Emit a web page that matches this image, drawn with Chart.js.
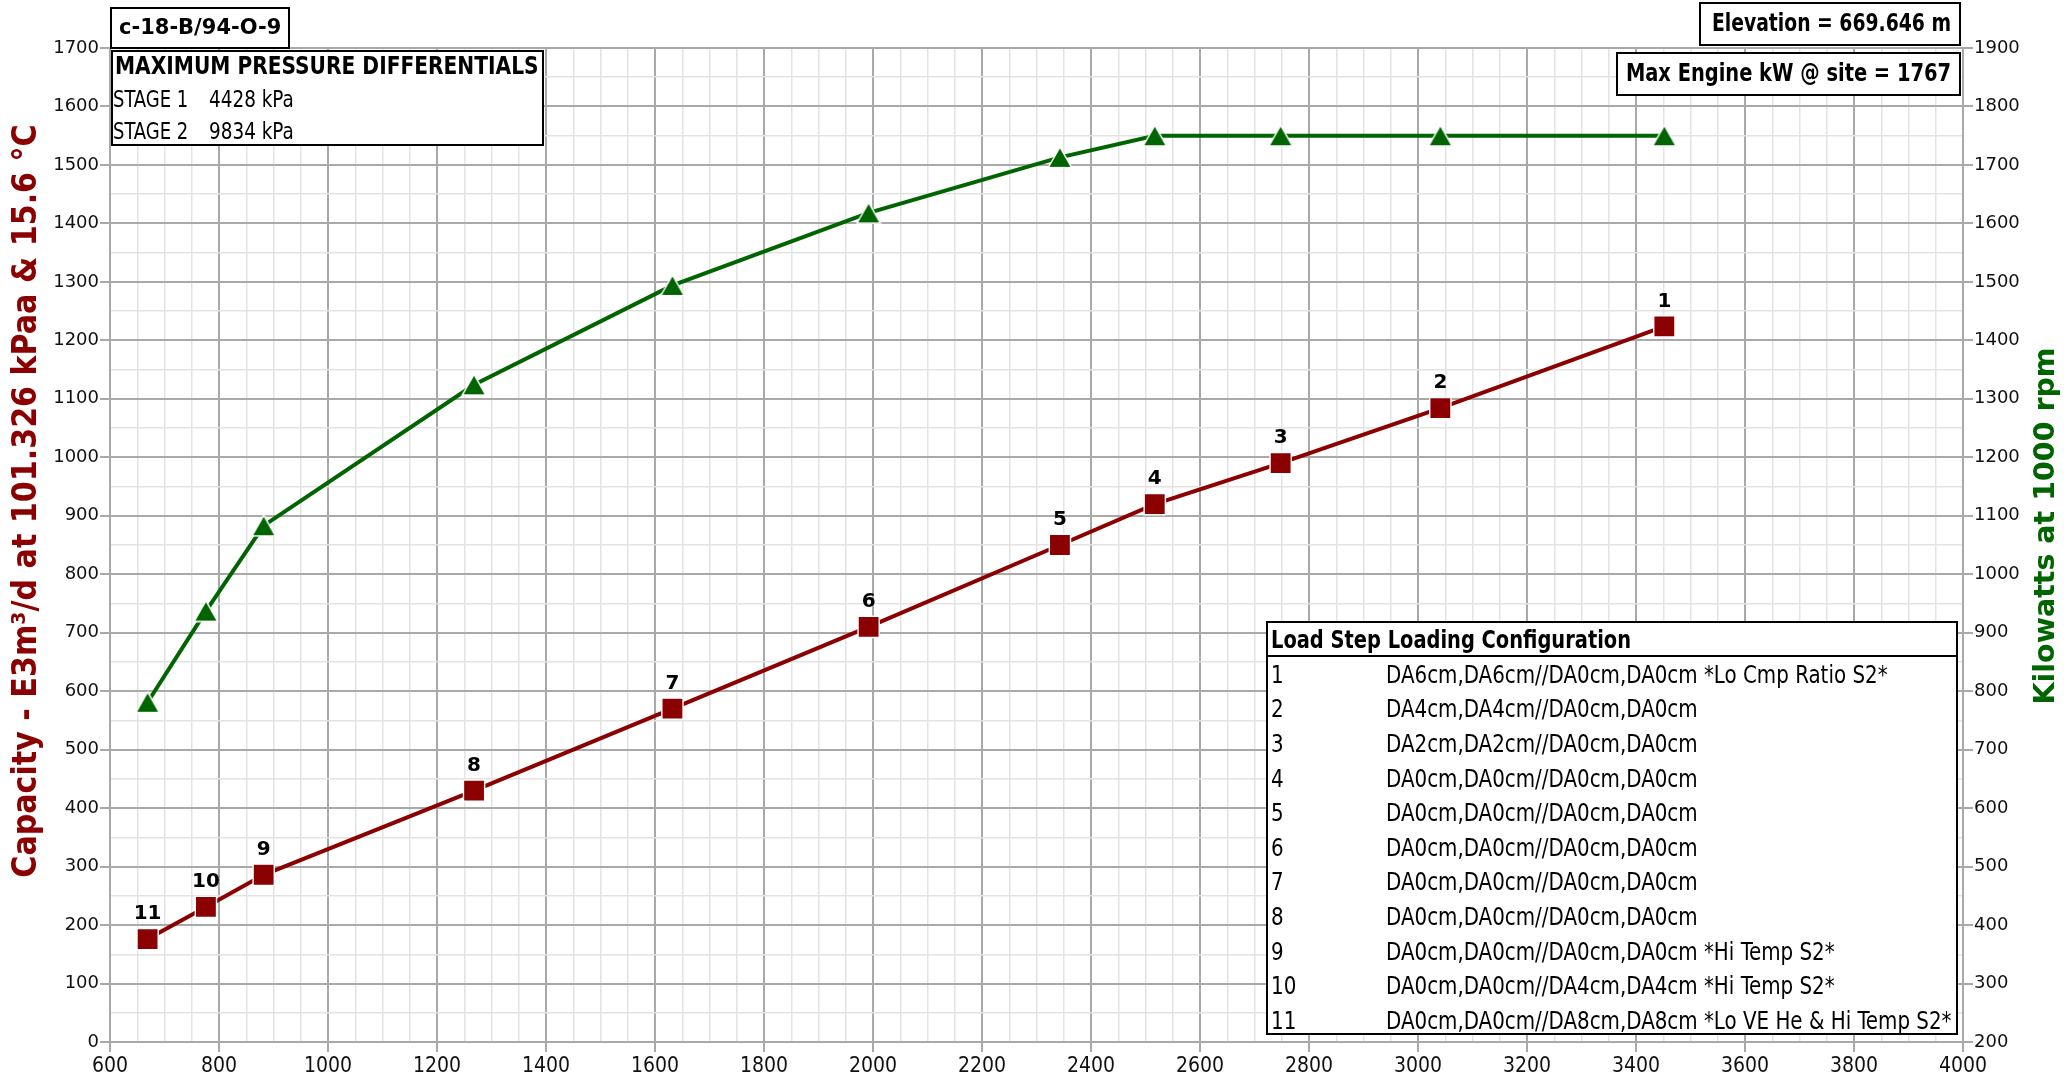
<!DOCTYPE html>
<html><head><meta charset="utf-8">
<script src="https://cdn.jsdelivr.net/npm/chart.js@4.4.1/dist/chart.umd.min.js"></script>
<style>html,body{margin:0;padding:0;background:#fff;overflow:hidden}#wrap{width:2070px;height:1078px}</style>
</head><body><div id="wrap"><canvas id="c" width="2070" height="1078"></canvas></div>
<script>
// ---- data ----
const loadSteps = ['1','2','3','4','5','6','7','8','9','10','11'];
const speedRpm  = [3452, 3041, 2748, 2517, 2343, 1992, 1632, 1268, 882, 776, 669];
const capacity  = [1224, 1084, 990, 920, 850, 710, 570, 430, 286, 231, 176];
const powerKw   = [1750, 1750, 1750, 1750, 1713, 1618, 1494, 1324, 1083, 937, 781];
const loadConfigs = [
  'DA6cm,DA6cm//DA0cm,DA0cm *Lo Cmp Ratio S2*',
  'DA4cm,DA4cm//DA0cm,DA0cm',
  'DA2cm,DA2cm//DA0cm,DA0cm',
  'DA0cm,DA0cm//DA0cm,DA0cm',
  'DA0cm,DA0cm//DA0cm,DA0cm',
  'DA0cm,DA0cm//DA0cm,DA0cm',
  'DA0cm,DA0cm//DA0cm,DA0cm',
  'DA0cm,DA0cm//DA0cm,DA0cm',
  'DA0cm,DA0cm//DA0cm,DA0cm *Hi Temp S2*',
  'DA0cm,DA0cm//DA4cm,DA4cm *Hi Temp S2*',
  'DA0cm,DA0cm//DA8cm,DA8cm *Lo VE He & Hi Temp S2*'
];
const xRange  = [600, 4000];   // rpm axis
const xSteps  = [200, 50];     // major, minor
const yRange  = [0, 1700];     // capacity axis
const y2Range = [200, 1900];   // kW axis
const ySteps  = [100, 50];
const stageLabels = ['STAGE 1', 'STAGE 2'];
const stageValues = ['4428 kPa', '9834 kPa'];
const unitId = 'c-18-B/94-O-9';
const elevationText = 'Elevation = 669.646 m';
const maxEngineText = 'Max Engine kW @ site = 1767';
const pressureTitle = 'MAXIMUM PRESSURE DIFFERENTIALS';
const tableHeader = 'Load Step Loading Configuration';
const yTitle = 'Capacity - E3m\u00B3/d at 101.326 kPaa & 15.6 \u00B0C';
const y2Title = 'Kilowatts at 1000 rpm';

// ---- styles ----
const RED = '#8B0000', GREEN = '#006400';
const MAJOR = '#a9a9a9', MINOR = '#e3e3e3';
const NARROW = '"DejaVu Sans Condensed","DejaVu Sans",sans-serif';
const WIDE = '"DejaVu Sans",Verdana,sans-serif';

// triangle marker (bbox-centred)
const tri = document.createElement('canvas');
tri.width = 26; tri.height = 23;
(function(){const t=tri.getContext('2d');t.beginPath();t.moveTo(13,1.2);t.lineTo(24.8,21.8);t.lineTo(1.2,21.8);t.closePath();
t.fillStyle=GREEN;t.fill();t.lineWidth=1.4;t.strokeStyle='#ffffff';t.stroke();})();

function gridOpts(step){
  return {
    color: c => (Math.round(c.tick.value) % step === 0 ? MAJOR : MINOR),
    lineWidth: c => (Math.round(c.tick.value) % step === 0 ? 2 : 1.5),
    tickColor: c => (Math.round(c.tick.value) % step === 0 ? MAJOR : 'rgba(0,0,0,0)'),
    tickLength: 10, tickWidth: 2
  };
}

function sText(ctx, text, x, y, font, sx, align){
  ctx.save();
  ctx.font = font; ctx.textAlign = align || 'left'; ctx.textBaseline = 'middle';
  ctx.translate(x, y); ctx.scale(sx, 1);
  ctx.fillText(text, 0, 0);
  ctx.restore();
}

const overlay = {
  id: 'overlay',
  afterDatasetsDraw(chart){
    const ctx = chart.ctx;
    const meta = chart.getDatasetMeta(0);
    ctx.save();
    ctx.fillStyle = '#000'; ctx.font = 'bold 20px ' + WIDE;
    ctx.textAlign = 'center'; ctx.textBaseline = 'middle';
    meta.data.forEach((p, i) => ctx.fillText(loadSteps[i], p.x, p.y - 25));
    ctx.restore();
  },
  afterDraw(chart){
    const ctx = chart.ctx;
    ctx.save();
    function box(x, y, w, h){
      ctx.fillStyle='#fff'; ctx.fillRect(x,y,w,h);
      ctx.lineWidth=2; ctx.strokeStyle='#000'; ctx.strokeRect(x,y,w,h);
      ctx.fillStyle='#000';
    }
    // unit id
    box(111, 8, 178, 40);
    sText(ctx, unitId, 119, 29, 'bold 21px ' + WIDE, 1);
    // pressure box
    box(112, 51, 431, 94);
    sText(ctx, pressureTitle, 115, 68, 'bold 24px ' + NARROW, 0.935);
    stageLabels.forEach((s, i) => {
      sText(ctx, s, 113, 101 + i*32, '23px ' + NARROW, 0.87);
      sText(ctx, stageValues[i], 209, 101 + i*32, '23px ' + NARROW, 0.89);
    });
    // elevation / engine
    box(1700, 3, 260, 42);
    sText(ctx, elevationText, 1951, 25, 'bold 24px ' + NARROW, 0.87, 'right');
    box(1617, 53, 343, 42);
    sText(ctx, maxEngineText, 1951, 75, 'bold 24px ' + NARROW, 0.90, 'right');
    // table
    box(1267, 622, 690, 412);
    ctx.beginPath(); ctx.moveTo(1267, 656); ctx.lineTo(1957, 656); ctx.stroke();
    sText(ctx, tableHeader, 1271, 642, 'bold 24px ' + NARROW, 0.90);
    loadConfigs.forEach((t, i) => {
      const y = 676.5 + i*34.6;
      sText(ctx, loadSteps[i], 1271, y, '24px ' + NARROW, 0.92);
      sText(ctx, t, 1386, y, '24px ' + NARROW, 0.92);
    });
    // axis titles
    ctx.save();
    ctx.translate(27, 501); ctx.rotate(-Math.PI/2);
    ctx.textAlign='center'; ctx.textBaseline='middle'; ctx.fillStyle=RED;
    ctx.font='bold 33.5px ' + NARROW;
    ctx.fillText(yTitle, 0, 0);
    ctx.restore();
    ctx.save();
    ctx.translate(2047, 526); ctx.rotate(-Math.PI/2);
    ctx.textAlign='center'; ctx.textBaseline='middle'; ctx.fillStyle=GREEN;
    ctx.font='bold 28.5px ' + WIDE;
    ctx.fillText(y2Title, 0, 0);
    ctx.restore();
    ctx.restore();
  }
};

new Chart(document.getElementById('c'), {
  type: 'scatter',
  data: {
    datasets: [
      { label: 'Capacity', data: speedRpm.map((x, i) => ({x, y: capacity[i]})), yAxisID: 'y',
        showLine: true, borderColor: RED, borderWidth: 4, pointStyle: 'rect', pointRadius: 15,
        pointBackgroundColor: RED, pointBorderColor: '#fff', pointBorderWidth: 1.4, pointHoverRadius: 15 },
      { label: 'Power', data: speedRpm.map((x, i) => ({x, y: powerKw[i]})), yAxisID: 'y2',
        showLine: true, borderColor: GREEN, borderWidth: 4, pointStyle: tri, pointRadius: 13, pointHoverRadius: 13 }
    ]
  },
  options: {
    responsive: false, devicePixelRatio: 1, animation: false,
    layout: { padding: { top: 48, left: 0, right: 0, bottom: 0 } },
    plugins: { legend: { display: false }, tooltip: { enabled: false } },
    scales: {
      x: {
        type: 'linear', min: xRange[0], max: xRange[1],
        ticks: { stepSize: xSteps[1], autoSkip: false, maxRotation: 0, padding: 2, color: '#111',
          font: { family: NARROW, size: 21 },
          callback: v => (Math.round(v) % xSteps[0] === 0 ? String(v) : '') },
        grid: gridOpts(xSteps[0]),
        border: { color: MAJOR, width: 2 },
        afterFit: s => { s.height = 36; }
      },
      y: {
        type: 'linear', position: 'left', min: yRange[0], max: yRange[1],
        ticks: { stepSize: ySteps[1], autoSkip: false, padding: 1, color: '#111',
          font: { family: WIDE, size: 18 },
          callback: v => (Math.round(v) % ySteps[0] === 0 ? String(v) : '') },
        grid: gridOpts(ySteps[0]),
        border: { color: MAJOR, width: 2 },
        afterFit: s => { s.width = 110; }
      },
      y2: {
        type: 'linear', position: 'right', min: y2Range[0], max: y2Range[1],
        ticks: { stepSize: ySteps[1], autoSkip: false, padding: 1, color: '#111',
          font: { family: WIDE, size: 18 },
          callback: v => (Math.round(v) % ySteps[0] === 0 ? String(v) : '') },
        grid: Object.assign(gridOpts(ySteps[0]), { drawOnChartArea: false }),
        border: { color: MAJOR, width: 2 },
        afterFit: s => { s.width = 107; }
      }
    }
  },
  plugins: [overlay]
});
</script></body></html>
